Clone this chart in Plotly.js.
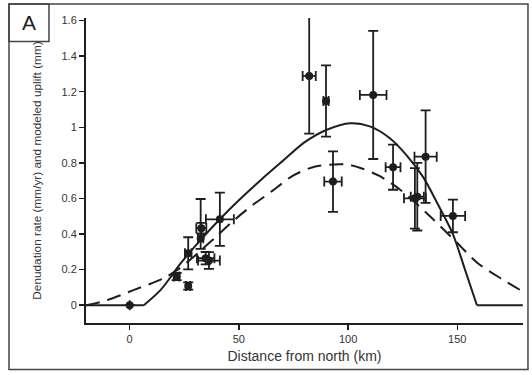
<!DOCTYPE html>
<html>
<head>
<meta charset="utf-8">
<script src="https://cdn.plot.ly/plotly-3.0.1.min.js"></script>
<style>
  html, body { margin: 0; padding: 0; background: #fff; }
  #chart { width: 532px; height: 375px; }
</style>
</head>
<body>
<div id="chart"></div>
<script>
// Measured denudation rates
const ptX = [0, 21.5, 26.8, 26.8, 32.8, 32.5, 41.3, 34.8, 36.3, 82.2, 89.9, 111.5, 93.1, 120.6, 135.5, 130.6, 131.7, 148];
const ptY = [0, 0.161, 0.108, 0.292, 0.433, 0.377, 0.483, 0.264, 0.251, 1.289, 1.148, 1.182, 0.695, 0.776, 0.835, 0.601, 0.61, 0.502];
const errYPlus  = [null, 0.02, 0.02, 0.09, 0.03, 0.22, 0.15, 0.035, 0.047, 0.335, 0.2, 0.36, 0.17, 0.127, 0.26, 0.17, 0.19, 0.092];
const errYMinus = [null, 0.02, 0.02, 0.09, 0.03, 0.06, 0.15, 0.035, 0.047, 0.325, 0.2, 0.36, 0.17, 0.127, 0.26, 0.17, 0.19, 0.092];
const errX      = [null, 1.3, 1.0, 1.5, 2.3, 1.2, 6.4, 4, 5, 3, 1.2, 6.1, 4, 3.4, 5.1, 5, 3, 5.6];

// Modeled uplift, solid curve
const solidX = [-20, 6.5, 14.2, 23.4, 32.5, 41.7, 50, 59.7, 70, 80, 90, 101, 110, 119, 127, 134.4, 141, 148, 153, 159, 180];
const solidY = [0, 0, 0.086, 0.236, 0.367, 0.489, 0.59, 0.70, 0.81, 0.915, 0.985, 1.023, 1.005, 0.94, 0.84, 0.72, 0.57, 0.40, 0.22, 0, 0];

// Modeled uplift, dashed curve
const dashX = [-20, -11, 2, 15.7, 22, 30, 40, 48, 56, 65, 75, 85, 96, 100, 106, 114.6, 124, 137.5, 150, 159, 170, 180];
const dashY = [0, 0.026, 0.086, 0.152, 0.2, 0.28, 0.39, 0.48, 0.56, 0.64, 0.73, 0.78, 0.793, 0.79, 0.77, 0.725, 0.648, 0.50, 0.35, 0.24, 0.15, 0.077];

const xTicks = [0, 50, 100, 150];
const yTicks = [0, 0.2, 0.4, 0.6, 0.8, 1, 1.2, 1.4, 1.6];

const ink = '#1e1e1e';
const font = '"Liberation Sans", Arial, sans-serif';

const traces = [
  { x: solidX.slice(0, 2), y: solidY.slice(0, 2), mode: 'lines', line: { color: ink, width: 2 }, hoverinfo: 'skip', showlegend: false },
  { x: solidX.slice(1, 20), y: solidY.slice(1, 20), mode: 'lines', line: { color: ink, width: 2, shape: 'spline', smoothing: 0.8 }, hoverinfo: 'skip', showlegend: false },
  { x: solidX.slice(19), y: solidY.slice(19), mode: 'lines', line: { color: ink, width: 2 }, hoverinfo: 'skip', showlegend: false },
  { x: dashX, y: dashY, mode: 'lines', line: { color: ink, width: 2, dash: '14px,8px', shape: 'spline', smoothing: 0.8 }, hoverinfo: 'skip', showlegend: false },
  {
    x: ptX, y: ptY, mode: 'markers', type: 'scatter',
    marker: { color: ink, size: 8 },
    error_y: { type: 'data', symmetric: false, array: errYPlus, arrayminus: errYMinus, color: ink, thickness: 1.8, width: 5 },
    error_x: { type: 'data', array: errX, color: ink, thickness: 1.8, width: 5 },
    showlegend: false
  }
];

const layout = {
  width: 532, height: 375,
  margin: { l: 86, r: 9, t: 18, b: 52 },
  paper_bgcolor: '#fff', plot_bgcolor: '#fff',
  font: { family: font, color: '#333', size: 11 },
  showlegend: false,
  xaxis: {
    range: [-20, 180.1], tickvals: xTicks, ticktext: xTicks.map(String),
    showgrid: false, zeroline: false, showline: true, linecolor: ink, linewidth: 2,
    ticks: 'outside', ticklen: 5, tickwidth: 1.5, tickcolor: ink,
    tickfont: { family: font, size: 11, color: '#333' },
    title: { text: 'Distance from north (km)', font: { family: font, size: 14, color: '#333' }, standoff: 7 }
  },
  yaxis: {
    range: [-0.1, 1.6145], tickvals: yTicks, ticktext: yTicks.map(String),
    showgrid: false, zeroline: false, showline: true, linecolor: ink, linewidth: 2,
    ticks: 'outside', ticklen: 5, tickwidth: 1.5, tickcolor: ink,
    tickfont: { family: font, size: 11, color: '#333' },
    title: { text: 'Denudation rate (mm/yr) and modeled uplift (mm)', font: { family: font, size: 11.8, color: '#333' }, standoff: 17 }
  },
  shapes: [
    { type: 'rect', xref: 'paper', yref: 'paper', x0: -0.1762, x1: 1.0114, y0: -0.1522, y1: 1.0458, line: { color: '#444', width: 1.5 }, fillcolor: 'rgba(0,0,0,0)' },
    { type: 'rect', xref: 'paper', yref: 'paper', x0: -0.1762, x1: -0.0847, y0: 0.9231, y1: 1.0458, line: { color: '#444', width: 1.5 }, fillcolor: 'rgba(0,0,0,0)' }
  ],
  annotations: [
    { text: 'A', xref: 'paper', yref: 'paper', x: -0.1305, y: 0.9845, xanchor: 'center', yanchor: 'middle', showarrow: false, font: { family: font, size: 21, color: '#222' } }
  ]
};

Plotly.newPlot('chart', traces, layout, { staticPlot: true, displayModeBar: false });
</script>
</body>
</html>
